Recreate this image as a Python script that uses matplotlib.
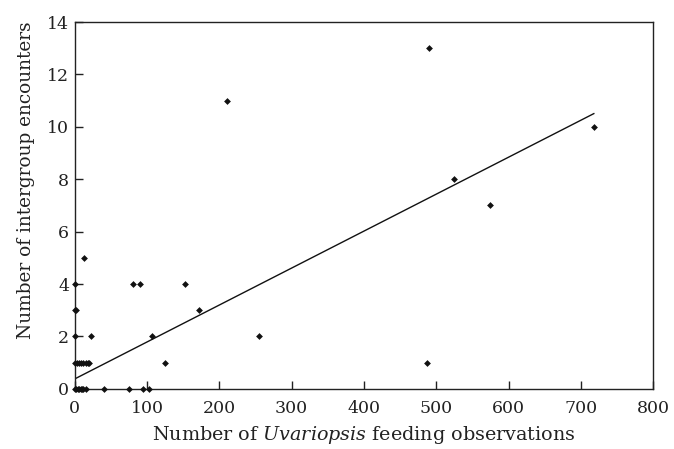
import numpy as np
import matplotlib
matplotlib.use("Agg")
import matplotlib.pyplot as plt

# feeding observations (x) and intercept encounters (y), grouped by encounter count
x_obs = [0, 2, 4, 6, 8, 10, 12, 15, 40, 75, 94, 103,
         0, 3, 6, 9, 12, 15, 18, 20, 125, 487,
         0, 22, 107, 255,
         0, 2, 172,
         0, 80, 90, 153,
         13, 575, 525, 718, 210, 490]
y_enc = [0, 0, 0, 0, 0, 0, 0, 0, 0, 0, 0, 0,
         1, 1, 1, 1, 1, 1, 1, 1, 1, 1,
         2, 2, 2, 2,
         3, 3, 3,
         4, 4, 4, 4,
         5, 7, 8, 10, 11, 13]

# fitted line as drawn
fit_intercept = 0.38
fit_slope = 0.0141
fit_xmax = 718

x_ticks = [0, 100, 200, 300, 400, 500, 600, 700, 800]
y_ticks = [0, 2, 4, 6, 8, 10, 12, 14]

plt.rcParams.update({
    "font.family": "serif", "font.serif": ["DejaVu Serif"],
    "mathtext.fontset": "custom", "mathtext.it": "DejaVu Serif:italic",
    "mathtext.rm": "DejaVu Serif",
    "font.size": 12, "axes.linewidth": 1.0, "axes.edgecolor": "#222222",
})

fig = plt.figure(figsize=(6.74, 4.49), dpi=100)
ax = fig.add_axes([0.111, 0.134, 0.858, 0.817])

ax.scatter(x_obs, y_enc, s=12, marker="D", color="#111111", linewidths=0, zorder=3, clip_on=False)
fx = np.array([0, fit_xmax])
ax.plot(fx, fit_intercept + fit_slope * fx, color="#111111", linewidth=1.0)

ax.set_xlim(0, 800)
ax.set_ylim(0, 14)
ax.set_xticks(x_ticks)
ax.set_yticks(y_ticks)
ax.tick_params(direction="in", length=6, width=1.0, colors="#222222", labelsize=12.5)
ax.tick_params(axis="x", pad=8)
ax.tick_params(axis="y", pad=4)
ax.set_xlabel("Number of $\\mathit{Uvariopsis}$ feeding observations", fontsize=13.8,
              color="#222222")
ax.set_ylabel("Number of intergroup encounters", fontsize=13.3, color="#222222")
ax.xaxis.set_label_coords(0.5, -0.095)
ax.yaxis.set_label_coords(-0.068, 0.57)

fig.savefig("out.png", dpi=100)
